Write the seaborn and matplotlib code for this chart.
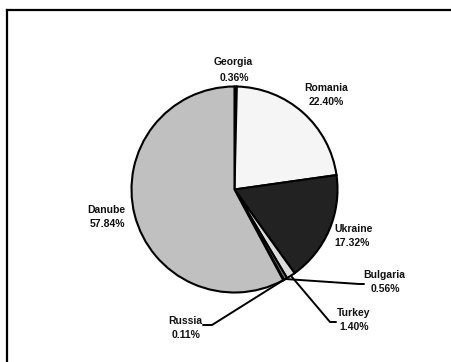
import matplotlib
matplotlib.use("Agg")
import matplotlib.pyplot as plt
import seaborn as sns
import numpy as np

sns.set_theme(style="white")
plt.rcParams['font.family'] = ['Liberation Sans', 'DejaVu Sans']

# data
countries = ["Georgia", "Romania", "Ukraine", "Turkey", "Bulgaria", "Russia", "Danube"]
shares = [0.36, 22.40, 17.32, 1.40, 0.56, 0.11, 57.84]
pct_labels = ["0.36%", "22.40%", "17.32%", "1.40%", "0.56%", "0.11%", "57.84%"]
colors = ["#000000", "#f5f5f5", "#222222", "#dcdcdc", "#707070", "#000000", "#c0c0c0"]

W, H = 452, 362
fig = plt.figure(figsize=(W / 100, H / 100), dpi=100)
ax = fig.add_axes([0, 0, 1, 1])

cx, cy, R = 234.5, 189.5, 103

def Y(y):
    return H - y

wedges, _ = ax.pie(shares, colors=colors, startangle=90, counterclock=False,
                   center=(cx, Y(cy)), radius=R,
                   wedgeprops=dict(edgecolor="black", linewidth=1.5))
ax.set_xlim(0, W)
ax.set_ylim(0, H)
ax.set_aspect("auto")
ax.axis("off")

# frame
ax.plot([7, 7], [Y(H + 5), Y(10)], color="black", lw=1.6, solid_capstyle="projecting", clip_on=False)
ax.plot([7, W + 5], [Y(10), Y(10)], color="black", lw=1.6, solid_capstyle="projecting", clip_on=False)

# label layout (name line center, pct line center) in pixel coordinates
label_pos = {
    "Georgia": ((233, 62), (234, 78)),
    "Romania": ((326, 88), (326, 102)),
    "Ukraine": ((354, 229), (352, 243)),
    "Bulgaria": ((384, 275), (385, 289)),
    "Turkey": ((354, 313), (354, 327)),
    "Russia": ((185, 321), (186, 335)),
    "Danube": ((106, 210), (107, 224)),
}
fs = 7.5
for name, pct in zip(countries, pct_labels):
    (nx, ny), (px, py) = label_pos[name]
    ax.text(nx, Y(ny), name, ha="center", va="center", fontsize=fs, fontweight="bold", color="#111111")
    ax.text(px, Y(py), pct, ha="center", va="center", fontsize=fs, fontweight="bold", color="#111111")

# leader lines for the small slices: (elbow, end) in pixel coords
leaders = {
    "Bulgaria": ((359, 284), (364, 284)),
    "Turkey": ((330, 322), (336, 322)),
    "Russia": ((212, 325), (203, 325)),
}
for w, name in zip(wedges, countries):
    if name in leaders:
        mid = np.deg2rad((w.theta1 + w.theta2) / 2)
        sx = cx + R * np.cos(mid)
        sy = Y(cy) + R * np.sin(mid)
        (ex, ey), (tx, ty) = leaders[name]
        ax.plot([sx, ex, tx], [sy, Y(ey), Y(ty)], color="black", lw=1.4)

fig.savefig("out.png", dpi=100)
